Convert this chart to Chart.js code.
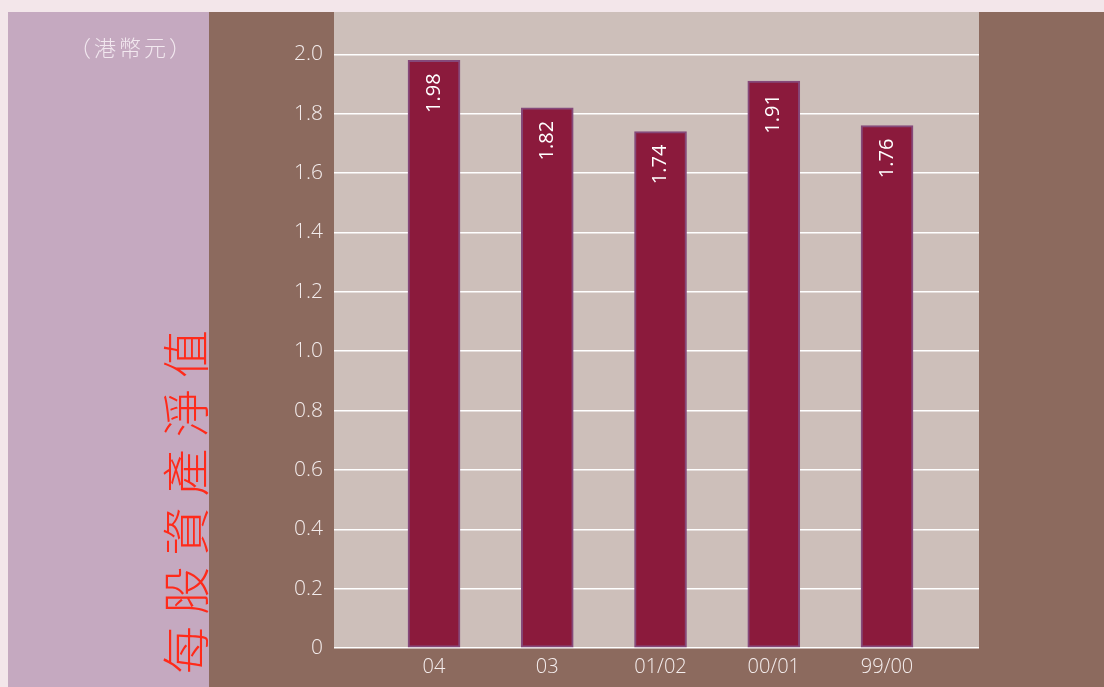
<!DOCTYPE html>
<html>
<head>
<meta charset="utf-8">
<script src="https://cdn.jsdelivr.net/npm/chart.js@4"></script>
<style>
  html, body { margin: 0; padding: 0; background: #f3e6ea; }
  #wrap { width: 1104px; height: 687px; position: relative; }
</style>
</head>
<body>
<div id="wrap"><canvas id="chart"></canvas></div>
<script>
const categories = ['04', '03', '01/02', '00/01', '99/00']
const navPerShare = [1.98, 1.82, 1.74, 1.91, 1.76]
const yTicks = [0, 0.2, 0.4, 0.6, 0.8, 1.0, 1.2, 1.4, 1.6, 1.8, 2.0]
const titleText = '每股資產淨值'
const unitText = '（港幣元）'

// panels behind the chart
const backdrop = {
  id: 'backdrop',
  beforeDraw(chart) {
    const ctx = chart.ctx
    const a = chart.chartArea
    ctx.save()
    ctx.fillStyle = '#f3e6ea'
    ctx.fillRect(0, 0, chart.width, chart.height)
    ctx.fillStyle = '#c5a9c0'
    ctx.fillRect(8, 12, 201, chart.height - 12)
    ctx.fillStyle = '#8c6a5e'
    ctx.fillRect(209, 12, chart.width - 209, chart.height - 12)
    ctx.fillStyle = '#cdbfba'
    ctx.fillRect(a.left, 12, a.right - a.left, a.bottom - 12)
    ctx.restore()
  }
}

// value labels, title and unit
const labels = {
  id: 'labels',
  afterDatasetsDraw(chart) {
    const ctx = chart.ctx
    ctx.save()
    ctx.fillStyle = '#ffffff'
    ctx.font = '20px "Open Sans"'
    ctx.textAlign = 'right'
    ctx.textBaseline = 'middle'
    chart.getDatasetMeta(0).data.forEach((bar, i) => {
      ctx.save()
      ctx.translate(bar.x, bar.y + 13)
      ctx.rotate(-Math.PI / 2)
      ctx.fillText(navPerShare[i].toFixed(2), 0, 0)
      ctx.restore()
    })

    ctx.fillStyle = '#f2e8ef'
    ctx.font = '300 22px "Noto Sans CJK TC"'
    ctx.letterSpacing = '3px'
    ctx.textAlign = 'right'
    ctx.fillText(unitText, 194, 48)
    ctx.letterSpacing = '0px'

    ctx.fillStyle = '#ff2a1a'
    ctx.font = '300 48px "Noto Sans CJK TC"'
    ctx.textAlign = 'center'
    ctx.translate(186, 0)
    ctx.rotate(-Math.PI / 2)
    const step = 59.2
    for (let i = 0; i < titleText.length; i++) {
      ctx.fillText(titleText[i], -(650 - i * step), 0)
    }
    ctx.restore()
  }
}

new Chart(document.getElementById('chart'), {
  type: 'bar',
  data: {
    datasets: [{
      data: navPerShare.map((v, i) => ({ x: i, y: v })),
      backgroundColor: '#8b1a3c',
      borderColor: '#85497a',
      borderWidth: 2,
      borderSkipped: false,
      barThickness: 52,
    }]
  },
  options: {
    responsive: true,
    maintainAspectRatio: false,
    animation: false,
    layout: { padding: { left: 0, right: 125, top: 12, bottom: 0 } },
    plugins: {
      legend: { display: false },
      tooltip: { enabled: false },
    },
    scales: {
      x: {
        type: 'linear',
        offset: false,
        bounds: 'data',
        min: -0.883,
        max: 4.812,
        afterBuildTicks: (axis) => { axis.ticks = categories.map((c, i) => ({ value: i })) },
        afterFit: (axis) => { axis.height = 39; axis.paddingLeft = 0; axis.paddingRight = 0 },
        grid: { display: false, drawTicks: false },
        border: { display: false },
        ticks: {
          color: '#f5eeee',
          font: { family: 'Open Sans', size: 20, weight: 300 },
          padding: 7,
          autoSkip: false,
          maxRotation: 0,
          callback: (v) => categories[v],
        },
      },
      y: {
        min: 0,
        max: 2.143,
        afterBuildTicks: (axis) => { axis.ticks = yTicks.map(v => ({ value: v })) },
        afterFit: (axis) => { axis.width = 334; axis.paddingTop = 0; axis.paddingBottom = 0 },
        grid: { color: '#ffffff', lineWidth: 1.5, drawTicks: false },
        border: { display: false },
        ticks: {
          color: '#f3ecec',
          font: { family: 'Open Sans', size: 21, weight: 300 },
          padding: 11,
          callback: (v) => v === 0 ? '0' : v.toFixed(1),
        },
      }
    }
  },
  plugins: [backdrop, labels]
})
</script>
</body>
</html>
